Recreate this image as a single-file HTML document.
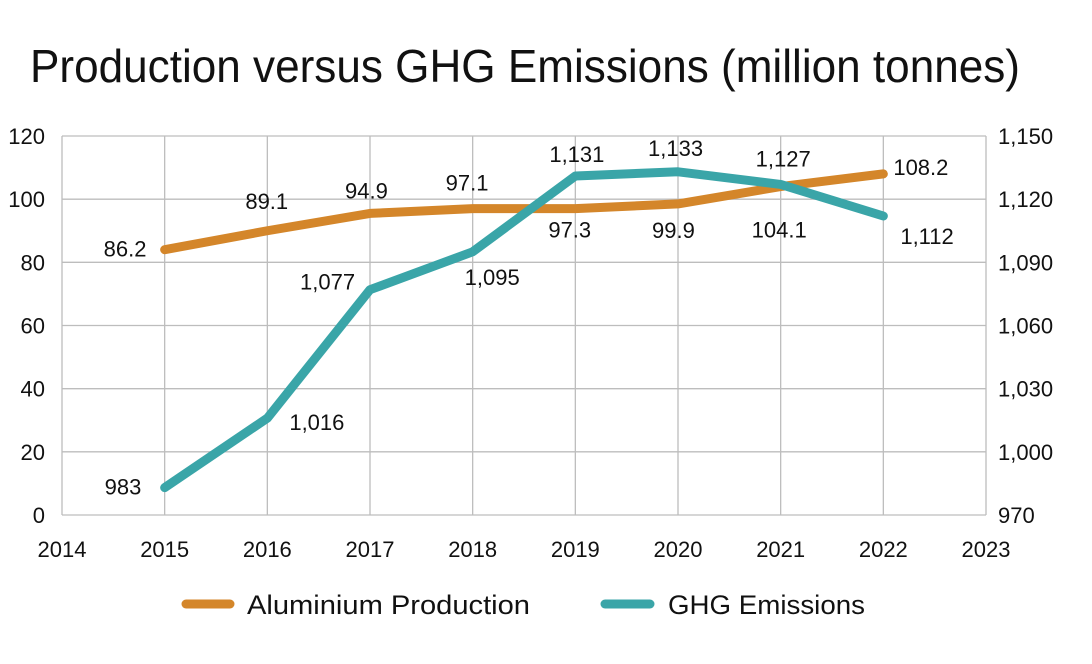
<!DOCTYPE html>
<html><head><meta charset="utf-8"><style>
html,body{margin:0;padding:0;background:#fff;}
svg text{font-family:"Liberation Sans",sans-serif;fill:#111;}
</style></head><body>
<svg id="chart" width="1092" height="659" viewBox="0 0 1092 659" xmlns="http://www.w3.org/2000/svg">
<text x="30" y="82" font-size="46" textLength="990" lengthAdjust="spacingAndGlyphs">Production versus GHG Emissions (million tonnes)</text>
<g id="grid"></g>
<g id="axes"></g>
<g id="series"></g>
<g id="labels"></g>
<g>
<line x1="186" y1="604" x2="230" y2="604" stroke="#D4862A" stroke-width="9" stroke-linecap="round"/>
<text x="247" y="614" font-size="27" textLength="283" lengthAdjust="spacingAndGlyphs">Aluminium Production</text>
<line x1="605" y1="604" x2="650" y2="604" stroke="#3AA5A8" stroke-width="9" stroke-linecap="round"/>
<text x="668" y="614" font-size="27" textLength="197" lengthAdjust="spacingAndGlyphs">GHG Emissions</text>
</g>
</svg>
<script>
const years = [2015,2016,2017,2018,2019,2020,2021,2022];
const xTicks = [2014,2015,2016,2017,2018,2019,2020,2021,2022,2023];
const production = [84,90,95.5,97,97,98.5,104,108];
const productionLabels = ["86.2","89.1","94.9","97.1","97.3","99.9","104.1","108.2"];
const emissions = [983,1016,1077,1095,1131,1133,1127,1112];
const emissionLabels = ["983","1,016","1,077","1,095","1,131","1,133","1,127","1,112"];
const leftTicks = [0,20,40,60,80,100,120];
const rightTicks = [970,1000,1030,1060,1090,1120,1150];
const rightTickLabels = ["970","1,000","1,030","1,060","1,090","1,120","1,150"];
const prodOff = [[-61,7],[-22,-22],[-25,-15],[-27,-18],[-27,29],[-26,34],[-29,51],[10,1]];
const emOff = [[-60,7],[22,12],[-70,0],[-8,33],[-26,-14],[-30,-16],[-25,-18],[17,28]];

const X0=62,X1=986,Y0=515,Y1=136;
const x = v => X0 + (v-2014)/(2023-2014)*(X1-X0);
const yl = v => Y0 - v/120*(Y0-Y1);
const yr = v => Y0 - (v-970)/(1150-970)*(Y0-Y1);
const NS="http://www.w3.org/2000/svg";
function mk(tag, parent, attrs){const e=document.createElementNS(NS,tag);for(const k in attrs)e.setAttribute(k,attrs[k]);parent.appendChild(e);return e;}
const grid=document.getElementById('grid'), axes=document.getElementById('axes'), series=document.getElementById('series'), labels=document.getElementById('labels');
leftTicks.forEach((t,i)=>{
  const l=mk('line',grid,{x1:X0,x2:X1,y1:yl(t),y2:yl(t),stroke:'#bdbdbd','stroke-width':1.3});
  
  
  const tx=mk('text',axes,{x:45,y:yl(t)+8,'font-size':22,'text-anchor':'end'});
  tx.textContent=t;
  
  
  const rx=mk('text',axes,{x:998,y:yr(rightTicks[i])+8,'font-size':22});
  rx.textContent=rightTickLabels[i];
  
  
});
xTicks.forEach(t=>{
  const l=mk('line',grid,{x1:x(t),x2:x(t),y1:Y1,y2:Y0,stroke:'#bdbdbd','stroke-width':1.3});
  
  
  const tx=mk('text',axes,{x:x(t),y:557,'font-size':22,'text-anchor':'middle'});
  tx.textContent=t;
  
  
});
const p1=mk('polyline',series,{points:years.map((yy,i)=>x(yy)+','+yl(production[i])).join(' '),fill:'none',stroke:'#D4862A','stroke-width':9,'stroke-linecap':'round','stroke-linejoin':'round'});


const p2=mk('polyline',series,{points:years.map((yy,i)=>x(yy)+','+yr(emissions[i])).join(' '),fill:'none',stroke:'#3AA5A8','stroke-width':9,'stroke-linecap':'round','stroke-linejoin':'round'});


years.forEach((yy,i)=>{
  const a=mk('text',labels,{x:x(yy)+prodOff[i][0],y:yl(production[i])+prodOff[i][1],'font-size':22});
  a.textContent=productionLabels[i];
  
  
  const b=mk('text',labels,{x:x(yy)+emOff[i][0],y:yr(emissions[i])+emOff[i][1],'font-size':22});
  b.textContent=emissionLabels[i];
  
  
});
</script>
</body></html>
